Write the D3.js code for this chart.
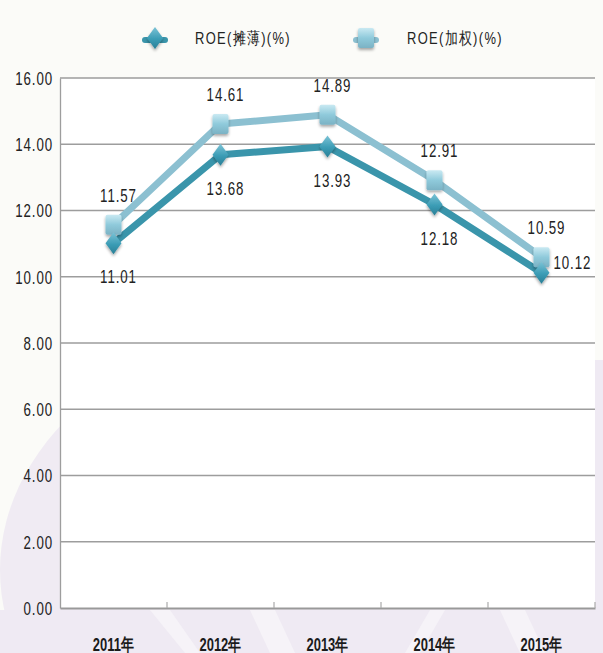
<!DOCTYPE html>
<html><head><meta charset="utf-8">
<script src="https://cdn.jsdelivr.net/npm/d3@7/dist/d3.min.js"></script>
<style>
html,body{margin:0;padding:0;background:#fbfbf8;}
svg{display:block;}
text{font-family:"Liberation Sans",Arial,sans-serif;}
</style></head>
<body><svg id="c" width="603" height="653"></svg>
<script>
const categories = ["2011年","2012年","2013年","2014年","2015年"];
const roeDiluted = [11.01, 13.68, 13.93, 12.18, 10.12];
const roeWeighted = [11.57, 14.61, 14.89, 12.91, 10.59];
const seriesNames = ["ROE(摊薄)(%)", "ROE(加权)(%)"];
const yTicks = [0, 2, 4, 6, 8, 10, 12, 14, 16];

const W = 603, H = 653;
const m = {left: 60, right: 8, top: 78, bottom: 45};
const svg = d3.select("#c");
const defs = svg.append("defs");

function narrow(sel, k) {
  sel.each(function(){
    const t = d3.select(this);
    const xx = +t.attr("x") || 0;
    t.attr("x", xx / k).attr("transform", `scale(${k},1)`);
  });
}

// watermark-like background
const bg = svg.append("g");
bg.append("ellipse").attr("cx", 330).attr("cy", 570).attr("rx", 330).attr("ry", 250).attr("fill", "#f0ebf3");
bg.append("rect").attr("x", 0).attr("y", 610).attr("width", W).attr("height", 43).attr("fill", "#efeaf3");
bg.append("rect").attr("x", 595).attr("y", 360).attr("width", 8).attr("height", 293).attr("fill", "#efeaf3");
[[150,610,185,653,200,653,170,610],[250,610,270,653,295,653,275,610],[430,610,405,653,420,653,445,610],[500,610,520,653,545,653,525,610]].forEach(p=>{
  bg.append("polygon").attr("points", `${p[0]},${p[1]} ${p[2]},${p[3]} ${p[4]},${p[5]} ${p[6]},${p[7]}`).attr("fill","#f6f3f8");
});

const x = d3.scaleBand().domain(categories).range([m.left, W - m.right]);
const y = d3.scaleLinear().domain([0, 16]).range([H - m.bottom, m.top]);

// plot area
svg.append("rect").attr("x", m.left).attr("y", m.top).attr("width", x.range()[1]-m.left).attr("height", y(0)-m.top).attr("fill", "#ffffff");

// grid
svg.append("g").selectAll("line").data(yTicks.filter(d=>d>0)).join("line")
  .attr("x1", m.left).attr("x2", x.range()[1]).attr("y1", d=>y(d)).attr("y2", d=>y(d))
  .attr("stroke", "#9d9d9d").attr("stroke-width", 1.3);

// y axis
const yAxis = svg.append("g").attr("transform", `translate(${m.left},0)`)
  .call(d3.axisLeft(y).tickValues(yTicks).tickFormat(d3.format(".2f")).tickSize(0).tickPadding(7));
yAxis.select(".domain").attr("stroke", "#9d9d9d").attr("stroke-width", 1.3);
yAxis.selectAll("text").attr("font-size", 18).attr("fill", "#222").attr("letter-spacing", "1.2px").attr("dy", "0.36em");
narrow(yAxis.selectAll("text"), 0.74);

// x axis
const xAxis = svg.append("g").attr("transform", `translate(0,${y(0)})`)
  .call(d3.axisBottom(x).tickSize(0).tickPadding(43));
xAxis.select(".domain").attr("stroke", "#999").attr("stroke-width", 2.2);
xAxis.selectAll("text").attr("font-size", 18).attr("fill", "#1a1a1a").attr("font-weight", "bold").attr("dy", "0");
narrow(xAxis.selectAll("text"), 0.72);
const bounds = categories.map(c => x(c)).concat([x.range()[1]]);
svg.append("g").selectAll("line").data(bounds.slice(1)).join("line")
  .attr("x1", d=>d).attr("x2", d=>d).attr("y1", y(0)).attr("y2", y(0)-6)
  .attr("stroke", "#aaa").attr("stroke-width", 1.2);

// gradients
const gDark = defs.append("linearGradient").attr("id","gd").attr("x1",0).attr("y1",0).attr("x2",0).attr("y2",1);
gDark.append("stop").attr("offset","0%").attr("stop-color","#7cc3d6");
gDark.append("stop").attr("offset","55%").attr("stop-color","#3b9cb5");
gDark.append("stop").attr("offset","100%").attr("stop-color","#2a7f96");
const gLight = defs.append("linearGradient").attr("id","gl").attr("x1",0).attr("y1",0).attr("x2",0).attr("y2",1);
gLight.append("stop").attr("offset","0%").attr("stop-color","#c9e9f2");
gLight.append("stop").attr("offset","50%").attr("stop-color","#8fcadb");
gLight.append("stop").attr("offset","100%").attr("stop-color","#7bb2c4");
const blur = defs.append("filter").attr("id","sh").attr("x","-50%").attr("y","-50%").attr("width","200%").attr("height","200%");
blur.append("feGaussianBlur").attr("in","SourceAlpha").attr("stdDeviation",1.5).attr("result","b");
blur.append("feOffset").attr("dy",1.5).attr("result","o");
blur.append("feComponentTransfer").append("feFuncA").attr("type","linear").attr("slope",0.35);
const mg = blur.append("feMerge"); mg.append("feMergeNode"); mg.append("feMergeNode").attr("in","SourceGraphic");

const cx = c => x(c) + x.bandwidth()/2;
const line = d3.line().x((d,i)=>cx(categories[i])).y(d=>y(d));

const series = [
  {vals: roeWeighted, color: "#8cc0d1", type: "square"},
  {vals: roeDiluted, color: "#3a95ab", type: "diamond"}
];
function marker(g, type, px, py) {
  if (type === "square") {
    g.append("rect").attr("x", px-8).attr("y", py-10).attr("width", 16).attr("height", 20).attr("rx", 2)
      .attr("fill", "url(#gl)").attr("filter","url(#sh)");
  } else {
    g.append("path").attr("d", `M${px},${py-11} L${px+8},${py} L${px},${py+11} L${px-8},${py} Z`)
      .attr("fill", "url(#gd)").attr("filter","url(#sh)");
  }
}
series.forEach(s => {
  svg.append("path").datum(s.vals).attr("d", line).attr("fill","none")
    .attr("stroke", s.color).attr("stroke-width", 7).attr("stroke-linejoin","round");
});
series.forEach(s => {
  const g = svg.append("g");
  s.vals.forEach((v,i) => marker(g, s.type, cx(categories[i]), y(v)));
});

// data labels
const lab = svg.append("g").attr("font-size", 18).attr("fill", "#222").attr("letter-spacing", "1.2px");
roeWeighted.forEach((v,i) => {
  lab.append("text").attr("x", cx(categories[i]) + 5).attr("y", y(v) - 23).attr("text-anchor","middle").text(v.toFixed(2));
});
roeDiluted.forEach((v,i) => {
  if (i === roeDiluted.length - 1) {
    lab.append("text").attr("x", cx(categories[i]) + 12).attr("y", y(v) - 4).attr("text-anchor","start").text(v.toFixed(2));
  } else {
    lab.append("text").attr("x", cx(categories[i]) + 5).attr("y", y(v) + 40).attr("text-anchor","middle").text(v.toFixed(2));
  }
});
narrow(lab.selectAll("text"), 0.74);

// legend
const leg = svg.append("g");
const legItems = [
  {name: seriesNames[0], type: "diamond", color: "#3a95ab", mx: 155, tx: 195},
  {name: seriesNames[1], type: "square", color: "#8cc0d1", mx: 366, tx: 407}
];
legItems.forEach(it => {
  leg.append("line").attr("x1", it.mx-10).attr("x2", it.mx+10).attr("y1", 40).attr("y2", 40)
    .attr("stroke", it.color).attr("stroke-width", 6).attr("stroke-linecap","round");
  marker(leg, it.type, it.mx, 38);
  const t = leg.append("text").attr("x", it.tx).attr("y", 44).attr("font-size", 17).attr("fill", "#222")
    .attr("letter-spacing", "1.8px").text(it.name);
  narrow(t, 0.76);
});
</script></body></html>
